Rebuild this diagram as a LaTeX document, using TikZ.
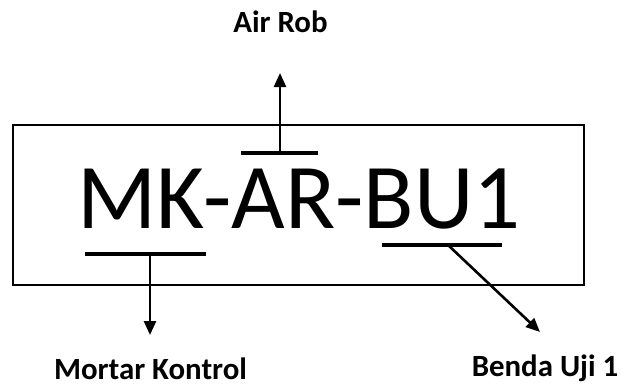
\documentclass[tikz,border=0pt]{standalone}
\usepackage{fontspec}
\setmainfont{Carlito}
\usetikzlibrary{arrows.meta}
\begin{document}
\begin{tikzpicture}[x=1bp,y=-1bp,
  lbl/.style={font=\fontsize{31}{31}\selectfont\bfseries, anchor=base, inner sep=0pt},
  code/.style={font=\fontsize{93}{93}\selectfont, anchor=base, inner sep=0pt},
  bar/.style={line width=3.2bp},
  pointer/.style={line width=2.6bp, -{Triangle[length=14bp,width=12bp]}},
  frame/.style={draw, line width=1.6bp, minimum width=571bp, minimum height=160bp, inner sep=0pt}]
\useasboundingbox (0,0) rectangle (621,388);
\node[frame] (box) at (298.5,205) {};
\node[code] (code) at (299,228) {MK-AR-BU1};
\node[lbl] (air) at (280.5,32) {Air Rob};
\node[lbl] (mortar) at (150.5,379) {Mortar Kontrol};
\node[lbl] (benda) at (545,376) {Benda Uji 1};
% bars
\coordinate (a1) at (241,153); \coordinate (a2) at (318,153); \coordinate (am) at (280,153);
\coordinate (atip) at (280,73);
\coordinate (m1) at (85,254); \coordinate (m2) at (206,254); \coordinate (mm) at (150,254);
\coordinate (mtip) at (150,335);
\coordinate (b1) at (382,245); \coordinate (b2) at (502,245); \coordinate (bm) at (448,245);
\coordinate (btip) at (540,332);
\draw[bar] (a1) -- (a2);
\draw[bar] (m1) -- (m2);
\draw[bar] (b1) -- (b2);
\draw[pointer] (am) -- (atip);
\draw[pointer] (mm) -- (mtip);
\draw[pointer] (bm) -- (btip);
\end{tikzpicture}
\end{document}
